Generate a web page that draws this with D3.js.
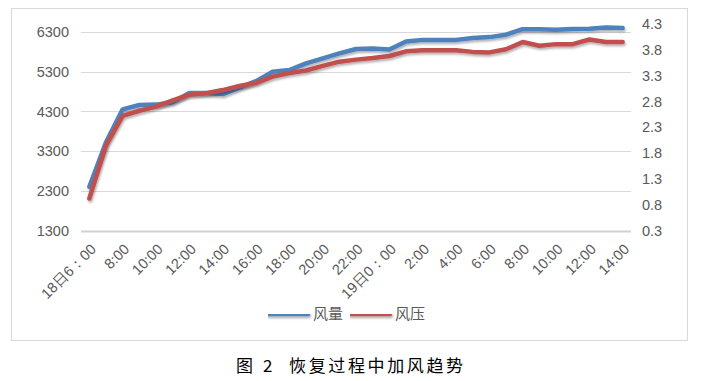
<!DOCTYPE html>
<meta charset="utf-8">
<script src="https://cdn.jsdelivr.net/npm/d3@7"></script>
<style>
	body{margin:0;background:#fff;font-family:"Liberation Sans",Arial,sans-serif;}
	.ax text{fill:#595959;font-size:14.5px;}
</style>
<div id="chart"></div>
<script>
// hourly, 18日6:00 -> 19日14:00
var times = ["18日6：00","7:00","8:00","9:00","10:00","11:00","12:00","13:00","14:00","15:00","16:00","17:00","18:00","19:00","20:00","21:00","22:00","23:00",
	"19日0：00","1:00","2:00","3:00","4:00","5:00","6:00","7:00","8:00","9:00","10:00","11:00","12:00","13:00","14:00"]
var airflow = [2400,3520,4350,4460,4470,4530,4760,4760,4735,4900,5060,5300,5340,5510,5636,5760,5870,5880,5860,6060,6100,6100,6100,6150,6170,6230,6370,6370,6355,6375,6380,6410,6400]
var pressure = [0.92,1.95,2.52,2.62,2.70,2.82,2.93,2.96,3.02,3.10,3.16,3.28,3.35,3.40,3.49,3.57,3.61,3.64,3.68,3.77,3.79,3.79,3.79,3.76,3.75,3.81,3.95,3.88,3.91,3.91,4.00,3.95,3.95]
var leftTicks = [1300,2300,3300,4300,5300,6300]
var rightTicks = [0.3,0.8,1.3,1.8,2.3,2.8,3.3,3.8,4.3]
var seriesNames = ["风量","风压"]
var colors = ["#4f81bd","#c0504d"]

var W = 709, H = 381
var svg = d3.select("#chart").append("svg").attr("width",W).attr("height",H)

var defs = svg.append("defs")
var f = defs.append("filter").attr("id","sh").attr("filterUnits","userSpaceOnUse")
	.attr("x",0).attr("y",0).attr("width",W).attr("height",H)
f.append("feDropShadow").attr("dx",1).attr("dy",2).attr("stdDeviation",1.3).attr("flood-color","#000").attr("flood-opacity",0.3)

// chart frame
svg.append("rect").attr("x",11.5).attr("y",8.5).attr("width",676).attr("height",332)
	.attr("fill","none").attr("stroke","#d9d9d9")

var pTop = 24, pBottom = 230.5, pLeft = 81, pRight = 631
var x = d3.scaleBand().domain(d3.range(times.length)).range([pLeft,pRight])
var yL = d3.scaleLinear().domain([1300,6500]).range([pBottom,pTop])
var yR = d3.scaleLinear().domain([0.3,4.3]).range([pBottom,pTop])

// gridlines
svg.append("g").selectAll("line").data(leftTicks).enter().append("line")
	.attr("x1",pLeft).attr("x2",pRight)
	.attr("y1",function(d){return Math.round(yL(d))+0.5})
	.attr("y2",function(d){return Math.round(yL(d))+0.5})
	.attr("stroke",function(d){return d==1300?"#d0d0d0":"#d9d9d9"})
	.attr("stroke-width",function(d){return d==1300?2:1})

var gl = svg.append("g").attr("class","ax").attr("transform","translate("+(pLeft-12)+",0)")
	.call(d3.axisLeft(yL).tickValues(leftTicks).tickSize(0).tickPadding(0).tickFormat(d3.format("d")))
gl.select(".domain").remove()

var gr = svg.append("g").attr("class","ax").attr("transform","translate("+(pRight+11)+",0)")
	.call(d3.axisRight(yR).tickValues(rightTicks).tickSize(0).tickPadding(0).tickFormat(d3.format(".1f")))
gr.select(".domain").remove()

var gx = svg.append("g").attr("class","ax").attr("transform","translate(0,"+pBottom+")")
	.call(d3.axisBottom(x).tickValues(d3.range(0,times.length,2)).tickSize(0).tickFormat(function(i){return times[i]}))
gx.select(".domain").remove()
gx.selectAll("text")
	.attr("y",0)
	.attr("text-anchor","end")
	.attr("dy","0.35em")
	.attr("transform","translate(4,16) rotate(-45)")

function cx(i){return x(i)+x.bandwidth()/2}

var lineL = d3.line().x(function(d,i){return cx(i)}).y(function(d){return yL(d)})
var lineR = d3.line().x(function(d,i){return cx(i)}).y(function(d){return yR(d)})

svg.append("path").datum(airflow).attr("d",lineL)
	.attr("fill","none").attr("stroke",colors[0]).attr("stroke-width",4.5)
	.attr("stroke-linejoin","round").attr("stroke-linecap","round").attr("filter","url(#sh)")
svg.append("path").datum(pressure).attr("d",lineR)
	.attr("fill","none").attr("stroke",colors[1]).attr("stroke-width",4.5)
	.attr("stroke-linejoin","round").attr("stroke-linecap","round").attr("filter","url(#sh)")

// legend
var lg = svg.append("g").attr("transform","translate(268,314)")
seriesNames.forEach(function(n,k){
	var g = lg.append("g").attr("transform","translate("+(k*82)+",0)")
	g.append("line").attr("x1",0).attr("x2",40).attr("y1",0).attr("y2",0)
		.attr("stroke",colors[k]).attr("stroke-width",4.5)
		.attr("stroke-linecap","round").attr("filter","url(#sh)")
	g.append("text").attr("x",45).attr("dy","0.35em").attr("fill","#595959")
		.style("font-size","15px").style("font-family","'Noto Sans CJK SC',sans-serif").text(n)
})

// caption
var cap = svg.append("g").style("font-size","17px").style("font-family","'Noto Sans CJK SC',sans-serif").attr("fill","#000")
cap.append("text").attr("x",236).attr("y",372).text("图")
cap.append("text").attr("x",263).attr("y",372).text("2")
cap.append("text").attr("x",289).attr("y",372).attr("textLength",174).text("恢复过程中加风趋势")
</script>
